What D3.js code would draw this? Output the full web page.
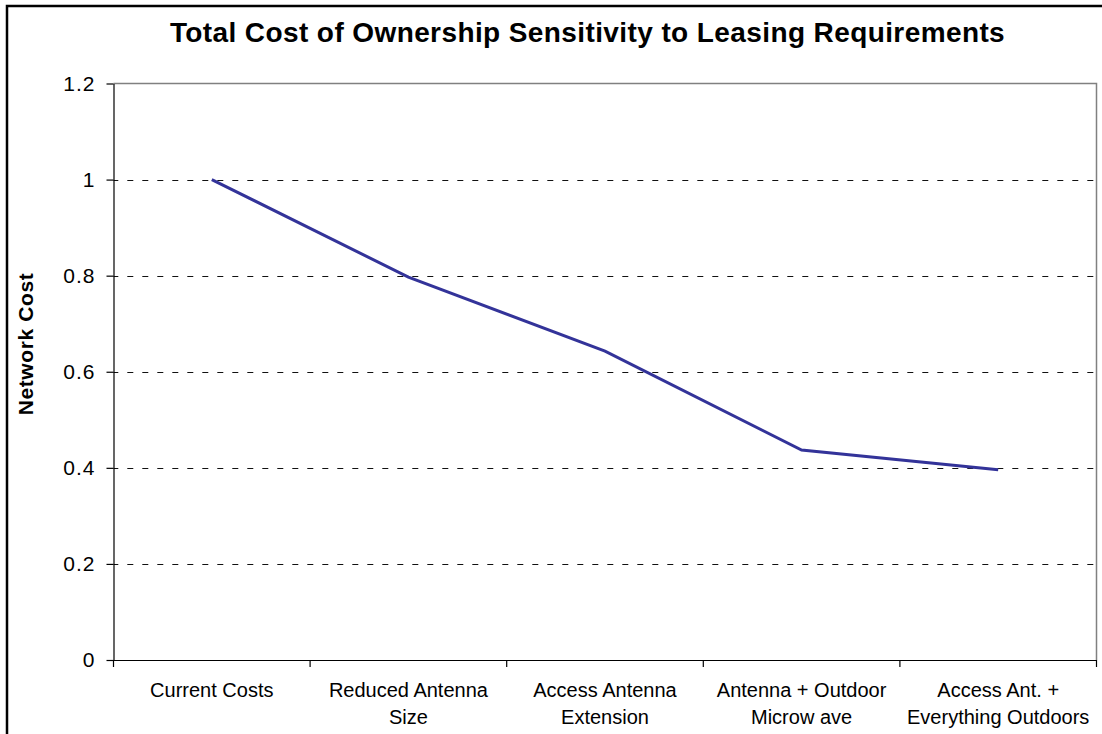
<!DOCTYPE html>
<html>
<head>
<meta charset="utf-8">
<script src="https://cdn.jsdelivr.net/npm/d3@7"></script>
<style>
  html, body { margin: 0; padding: 0; background: #fff; }
  svg { display: block; font-family: Arial, "Liberation Sans", sans-serif; }
</style>
</head>
<body>
<svg id="chart" width="1102" height="734"></svg>
<script>
// ---- data ----
const categories = [
  "Current Costs",
  "Reduced Antenna\nSize",
  "Access Antenna\nExtension",
  "Antenna + Outdoor\nMicrow ave",
  "Access Ant. +\nEverything Outdoors"
];
const networkCost = [1.0, 0.797, 0.643, 0.437, 0.396];
const yTicks = [0, 0.2, 0.4, 0.6, 0.8, 1.0, 1.2];
const yTickLabels = ["0", "0.2", "0.4", "0.6", "0.8", "1", "1.2"];
const titleText = "Total Cost of Ownership Sensitivity to Leasing Requirements";
const yAxisTitle = "Network Cost";

// ---- layout ----
const W = 1102, H = 734;
const plot = { left: 113.5, right: 1096.5, top: 83.5, bottom: 660 };

const svg = d3.select("#chart");

// chart-area frame (extends beyond the visible picture on right/bottom)
svg.append("rect")
  .attr("x", 7).attr("y", 6)
  .attr("width", W + 20).attr("height", H + 20)
  .attr("fill", "#fff")
  .attr("stroke", "#000")
  .attr("stroke-width", 2.5);

const x = d3.scaleBand()
  .domain(categories)
  .range([plot.left, plot.right])
  .paddingInner(0).paddingOuter(0);

const y = d3.scaleLinear()
  .domain([0, 1.2])
  .range([plot.bottom, plot.top]);

// gridlines (dashed) for inner ticks
svg.append("g")
  .selectAll("line")
  .data(yTicks.filter(v => v > 0 && v < 1.2))
  .join("line")
  .attr("x1", plot.left).attr("x2", plot.right)
  .attr("y1", d => Math.round(y(d)) + 0.5)
  .attr("y2", d => Math.round(y(d)) + 0.5)
  .attr("stroke", "#111")
  .attr("stroke-width", 1)
  .attr("stroke-dasharray", "6,9")
  .attr("stroke-dashoffset", 1.2);

// plot-area border (top & right, gray)
svg.append("path")
  .attr("d", `M${plot.left},${y(1.2)}H${plot.right}V${plot.bottom}`)
  .attr("fill", "none")
  .attr("stroke", "#808080")
  .attr("stroke-width", 1.5);

// y axis
const yAxis = d3.axisLeft(y)
  .tickValues(yTicks)
  .tickFormat((d, i) => yTickLabels[i])
  .tickSize(7)
  .tickSizeOuter(0)
  .tickPadding(11);

const gy = svg.append("g")
  .attr("transform", `translate(${plot.left},0)`)
  .call(yAxis);
gy.select(".domain").attr("stroke", "#000").attr("stroke-width", 1.2);
gy.selectAll(".tick line").attr("stroke", "#000").attr("stroke-width", 1.2);
gy.selectAll(".tick text")
  .attr("font-size", 21)
  .attr("letter-spacing", 1)
  .attr("fill", "#000")
  .attr("font-family", "Arial, 'Liberation Sans', sans-serif");

// x axis (baseline + tick marks at category boundaries)
const xAxis = d3.axisBottom(x).tickSize(0).tickSizeOuter(0).tickFormat("");
const gx = svg.append("g")
  .attr("transform", `translate(0,${plot.bottom})`)
  .call(xAxis);
gx.select(".domain").attr("stroke", "#000").attr("stroke-width", 1.2);
gx.selectAll(".tick").remove();

const boundaries = categories.map(c => x(c)).concat([x(categories[categories.length - 1]) + x.bandwidth()]);
svg.append("g")
  .selectAll("line")
  .data(boundaries)
  .join("line")
  .attr("x1", d => d).attr("x2", d => d)
  .attr("y1", plot.bottom).attr("y2", plot.bottom + 7)
  .attr("stroke", "#000")
  .attr("stroke-width", 1.2);

// category labels
const labels = svg.append("g")
  .selectAll("text")
  .data(categories)
  .join("text")
  .attr("x", d => x(d) + x.bandwidth() / 2)
  .attr("y", 697)
  .attr("text-anchor", "middle")
  .attr("font-size", 20)
  .attr("fill", "#000");
labels.each(function(d) {
  const lines = d.split("\n");
  const t = d3.select(this);
  lines.forEach((ln, i) => {
    t.append("tspan")
      .attr("x", x(d) + x.bandwidth() / 2)
      .attr("dy", i === 0 ? 0 : 27)
      .text(ln);
  });
});

// series line
const line = d3.line()
  .x((d, i) => x(categories[i]) + x.bandwidth() / 2)
  .y(d => y(d));

svg.append("path")
  .datum(networkCost)
  .attr("d", line)
  .attr("fill", "none")
  .attr("stroke", "#333399")
  .attr("stroke-width", 3)
  .attr("stroke-linejoin", "miter");

// title
svg.append("text")
  .attr("x", 587.5)
  .attr("y", 41.5)
  .attr("text-anchor", "middle")
  .attr("font-size", 28)
  .attr("font-weight", "bold")
  .attr("letter-spacing", 0.4)
  .attr("fill", "#000")
  .text(titleText);

// y axis title
svg.append("text")
  .attr("transform", "translate(33,344) rotate(-90)")
  .attr("text-anchor", "middle")
  .attr("font-size", 21)
  .attr("font-weight", "bold")
  .attr("letter-spacing", 0.6)
  .attr("fill", "#000")
  .text(yAxisTitle);
</script>
</body>
</html>
